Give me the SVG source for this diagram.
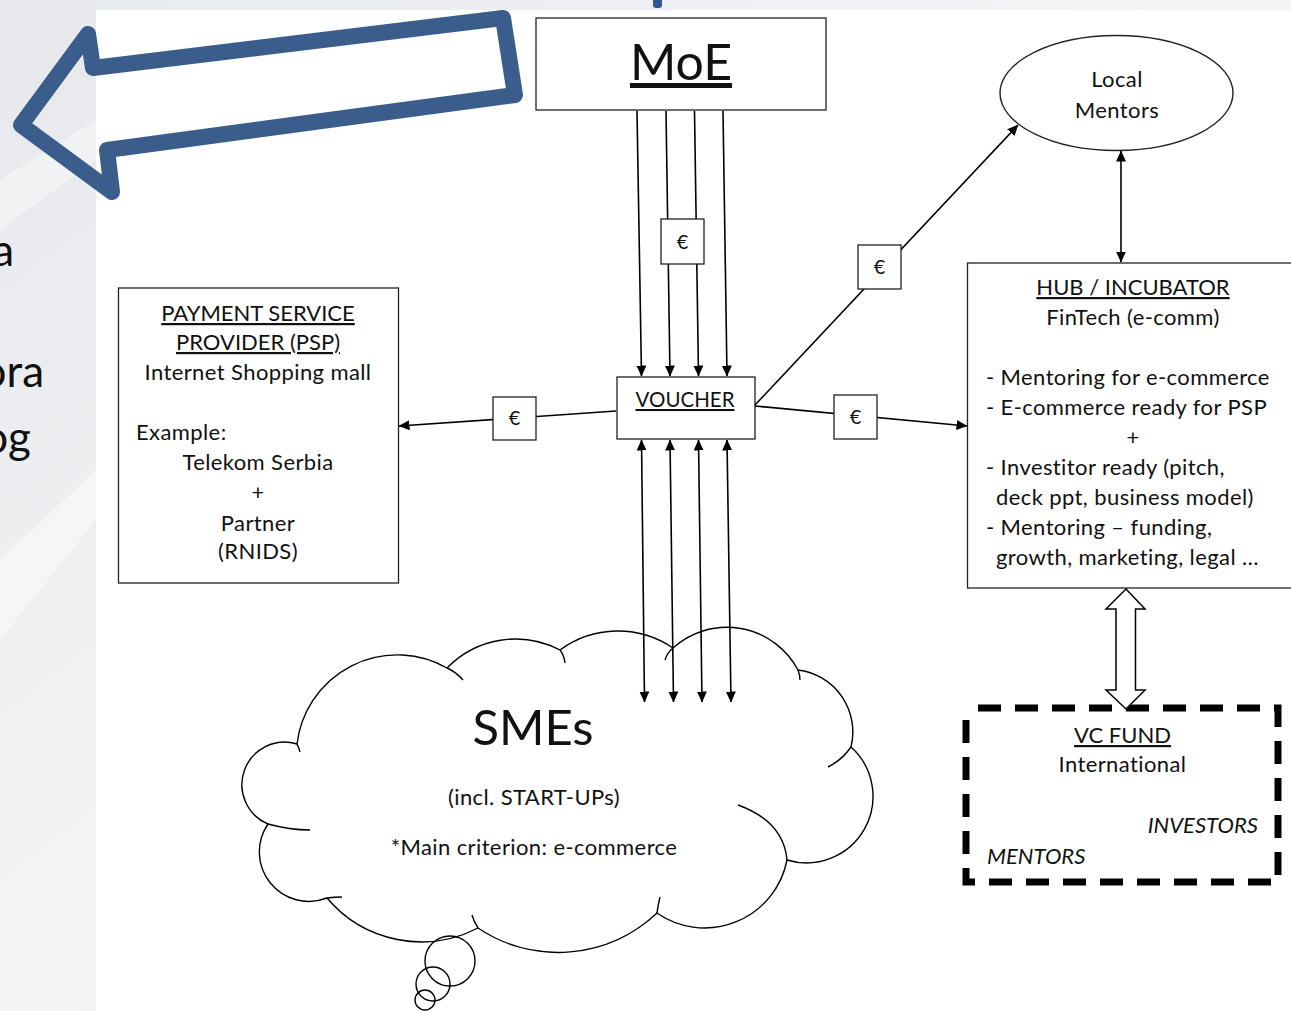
<svg xmlns="http://www.w3.org/2000/svg" width="1291" height="1011" viewBox="0 0 1291 1011">
<defs>
<linearGradient id="bg" x1="0" y1="0" x2="1" y2="1">
<stop offset="0" stop-color="#e6e8eb"/>
<stop offset="0.5" stop-color="#f4f4f6"/>
<stop offset="1" stop-color="#eaebed"/>
</linearGradient>
<linearGradient id="topbar" x1="0" y1="0" x2="1" y2="0">
<stop offset="0" stop-color="#e8ebef"/>
<stop offset="1" stop-color="#f4f5f7"/>
</linearGradient>
<marker id="ah" markerUnits="userSpaceOnUse" markerWidth="11" markerHeight="10" refX="10.5" refY="5" orient="auto-start-reverse">
<path d="M0,0 L11,5 L0,10 Z" fill="#000"/>
</marker>
<style>
.t{font-family:Lato,"Open Sans","Liberation Sans",sans-serif;fill:#111;}
.b{font-size:22px;letter-spacing:0.4px;}
.k{letter-spacing:0;}
.c{text-anchor:middle;}
.u{text-decoration:underline;}
.i{font-style:italic;}
.box{fill:#fff;stroke:#222;stroke-width:1.3;}
.ln{fill:none;stroke:#000;stroke-width:1.6;}
.cl{fill:none;stroke:#000;stroke-width:1.4;}
</style>
</defs>

<g id="background">
<rect width="1291" height="1011" fill="url(#bg)"/>
<polygon points="0,560 96,470 96,520 0,640" fill="#fafafa" opacity="0.6"/>
<polygon points="0,180 96,120 96,160 0,230" fill="#fafafa" opacity="0.5"/>
<rect x="96" y="0" width="1195" height="10" fill="url(#topbar)"/>
<rect x="96" y="10" width="1195" height="1001" fill="#fff"/>
<rect x="653" y="-4" width="9" height="12" rx="3" fill="#2e5a92"/>
</g>

<g id="left-text">
<text class="t" x="14" y="266" font-size="44" text-anchor="end">a</text>
<text class="t" x="44" y="387" font-size="44" text-anchor="end">ora</text>
<text class="t" x="31" y="453" font-size="44" text-anchor="end">og</text>
</g>

<g id="big-arrow">
<path d="M21,125 L88,34 L93,68 L503,18 L515,95 L107,150 L112,192 Z" fill="none" stroke="#3a5d8b" stroke-width="16" stroke-linejoin="round"/>
</g>

<g id="moe">
<rect class="box" x="536" y="18" width="290" height="92"/>
<text class="t c u" x="681" y="80" font-size="50">MoE</text>
</g>

<g id="voucher">
<rect class="box" x="617" y="377" width="138" height="62"/>
<text class="t c u" x="685" y="407" font-size="20.5">VOUCHER</text>
</g>

<g id="psp">
<rect class="box" x="118.5" y="288" width="280" height="295"/>
<text class="t b k c u" x="258" y="321">PAYMENT SERVICE</text>
<text class="t b k c u" x="258" y="350">PROVIDER (PSP)</text>
<text class="t b c" x="258" y="380">Internet Shopping mall</text>
<text class="t b" x="136" y="440">Example:</text>
<text class="t b c" x="258" y="470">Telekom Serbia</text>
<text class="t b c" x="258" y="500">+</text>
<text class="t b c" x="258" y="531">Partner</text>
<text class="t b c" x="258" y="559">(RNIDS)</text>
</g>

<g id="local-mentors">
<ellipse cx="1116.5" cy="93" rx="116.5" ry="57.5" fill="#fff" stroke="#222" stroke-width="1.4"/>
<text class="t b c" x="1117" y="87">Local</text>
<text class="t b c" x="1117" y="118">Mentors</text>
</g>

<g id="hub">
<rect class="box" x="967.5" y="263" width="340" height="325"/>
<text class="t b k c u" x="1133" y="295">HUB / INCUBATOR</text>
<text class="t b c" x="1133" y="325">FinTech (e-comm)</text>
<text class="t b" x="986" y="385">- Mentoring for e-commerce</text>
<text class="t b" x="986" y="415">- E-commerce ready for PSP</text>
<text class="t b c" x="1133" y="445">+</text>
<text class="t b" x="986" y="475">- Investitor ready (pitch,</text>
<text class="t b" x="996" y="505">deck ppt, business model)</text>
<text class="t b" x="986" y="535">- Mentoring – funding,</text>
<text class="t b" x="996" y="565">growth, marketing, legal …</text>
</g>

<g id="vc-fund">
<rect x="966" y="708" width="312" height="174" fill="none" stroke="#000" stroke-width="7" stroke-dasharray="23 14" stroke-dashoffset="25"/>
<text class="t b k c u" x="1122.5" y="743">VC FUND</text>
<text class="t b c" x="1122.5" y="772">International</text>
<text class="t b k i" x="1258" y="833" text-anchor="end">INVESTORS</text>
<text class="t b k i" x="987" y="864">MENTORS</text>
</g>

<g id="smes">
<path d="M268,824 A42.6,42.6 0 0 1 297,744 A101,101 0 0 1 447,668 A95.6,95.6 0 0 1 560,650 A97.7,97.7 0 0 1 673,648 A80.5,80.5 0 0 1 798,670 A62.4,62.4 0 0 1 851,747 A66.5,66.5 0 0 1 787,860 A83.8,83.8 0 0 1 657,913 A143.7,143.7 0 0 1 478,928 A123.3,123.3 0 0 1 327,898 A49.5,49.5 0 0 1 268,824 Z" fill="#fff" stroke="#000" stroke-width="1.4"/>
<path class="cl" d="M268,824 Q290,830 310,830"/>
<path class="cl" d="M297,744 Q299,748 300,752"/>
<path class="cl" d="M447,668 Q456,672 463,680"/>
<path class="cl" d="M560,650 Q564,655 565,663"/>
<path class="cl" d="M673,648 Q667,653 665,660"/>
<path class="cl" d="M798,670 Q800,675 800,680"/>
<path class="cl" d="M851,747 Q842,760 828,767"/>
<path class="cl" d="M787,860 Q783.5,821.5 738,805"/>
<path class="cl" d="M657,913 Q658,905 660,897"/>
<path class="cl" d="M478,928 Q474,922 472,915"/>
<path class="cl" d="M327,898 Q335,897 342,897"/>
<circle class="cl" cx="450" cy="961" r="25"/>
<circle class="cl" cx="433" cy="984" r="17"/>
<circle class="cl" cx="425" cy="1000" r="10"/>
<text class="t c" x="533" y="745" font-size="49">SMEs</text>
<text class="t b c" x="534" y="805">(incl. START-UPs)</text>
<text class="t b c" x="534" y="855">*Main criterion: e-commerce</text>
</g>

<g id="connectors">
<line class="ln" x1="637" y1="111" x2="641.5" y2="376" marker-end="url(#ah)"/>
<line class="ln" x1="666" y1="111" x2="670" y2="376" marker-end="url(#ah)"/>
<line class="ln" x1="694.5" y1="111" x2="698.5" y2="376" marker-end="url(#ah)"/>
<line class="ln" x1="723" y1="111" x2="727" y2="376" marker-end="url(#ah)"/>
<line class="ln" x1="641.5" y1="440" x2="644.5" y2="702" marker-start="url(#ah)" marker-end="url(#ah)"/>
<line class="ln" x1="670" y1="440" x2="673.5" y2="702" marker-start="url(#ah)" marker-end="url(#ah)"/>
<line class="ln" x1="698.5" y1="440" x2="702" y2="702" marker-start="url(#ah)" marker-end="url(#ah)"/>
<line class="ln" x1="727" y1="440" x2="731" y2="702" marker-start="url(#ah)" marker-end="url(#ah)"/>
<line class="ln" x1="616" y1="411" x2="399" y2="426" marker-end="url(#ah)"/>
<line class="ln" x1="755" y1="406" x2="967" y2="426" marker-end="url(#ah)"/>
<line class="ln" x1="755" y1="405" x2="1018" y2="125" marker-end="url(#ah)"/>
<line class="ln" x1="1121" y1="151" x2="1121" y2="262" marker-start="url(#ah)" marker-end="url(#ah)"/>
<polygon points="1126,589 1145,609 1135.5,609 1135.5,690 1145,690 1126,709 1106,690 1116,690 1116,609 1106,609" fill="#fff" stroke="#000" stroke-width="1.5"/>
<g id="euro-top"><rect class="box" x="661" y="219" width="43" height="45"/><text class="t c" x="682.5" y="249" font-size="20">€</text></g>
<g id="euro-psp"><rect class="box" x="493" y="397" width="43" height="43"/><text class="t c" x="514.5" y="425" font-size="20">€</text></g>
<g id="euro-hub"><rect class="box" x="834" y="395" width="43" height="44"/><text class="t c" x="855.5" y="424" font-size="20">€</text></g>
<g id="euro-local"><rect class="box" x="858" y="245" width="43" height="44"/><text class="t c" x="879.5" y="274" font-size="20">€</text></g>
</g>
</svg>
